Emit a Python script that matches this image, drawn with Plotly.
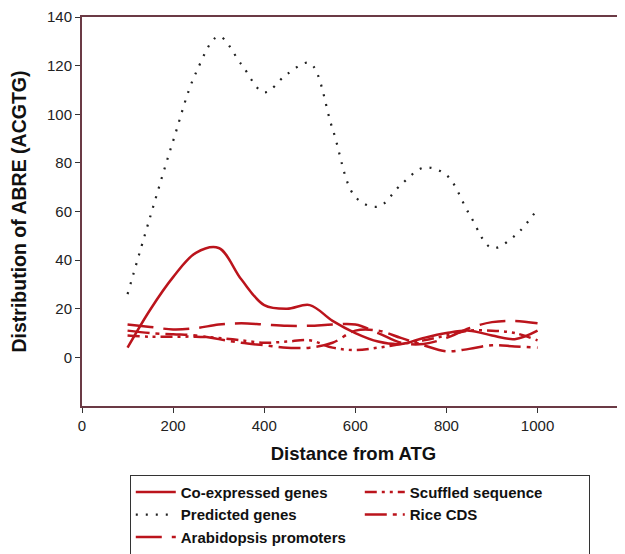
import plotly.graph_objects as go

# ---- data ----
dist = [100, 150, 200, 250, 300, 350, 400, 450, 500, 550,
        600, 650, 700, 750, 800, 850, 900, 950, 1000]

co_expressed = [4, 19.7, 33, 43, 45, 32, 21.5, 20, 21.5, 15,
                10, 6.5, 5.5, 8, 10, 11, 9, 7.5, 11]
predicted = [26, 58, 89, 117, 132, 120.5, 109, 116.5, 121, 94,
             66, 62, 71, 78, 75, 59, 45, 50, 61]
arabidopsis = [13.5, 12.5, 11.5, 12, 13.5, 14, 13.5, 13, 13, 13.5,
               13.5, 10, 6, 5.5, 8, 12, 14.5, 15, 14]
scuffled = [9, 8.5, 8.5, 8.5, 8, 7, 6, 6.5, 7, 4,
            3, 4, 5.5, 7, 9, 11, 11, 10, 7]
rice_cds = [11, 10, 9.5, 9, 7.5, 6, 5, 4, 4, 6,
            11, 11, 8, 5, 2.5, 3.5, 5, 4.5, 4]

x_ticks = [0, 200, 400, 600, 800, 1000]
y_ticks = [0, 20, 40, 60, 80, 100, 120, 140]

RED = "#bb141c"
FRAME = "#6b3a45"
FONT = "Liberation Sans"

fig = go.Figure()

def add(name, y, color, dash, width):
    fig.add_trace(go.Scatter(
        x=dist, y=y, name=name, mode="lines",
        line=dict(color=color, dash=dash, width=width, shape="spline", smoothing=1.0),
    ))

# legend order: row-wise fill (Co-expressed, Scuffled / Predicted, Rice / Arabidopsis)
add("Co-expressed genes", co_expressed, RED, "solid", 2.5)
add("Scuffled sequence", scuffled, RED, "12px,5px,3px,5px,3px,5px", 2.5)
add("Predicted genes", predicted, "#222222", "2px,8px", 2.2)
add("Rice CDS", rice_cds, RED, "22px,6px,4px,6px", 2.5)
add("Arabidopsis promoters", arabidopsis, RED, "26px,10px", 2.5)

# the page body adds an 8px offset, so the figure is 8px smaller than the window
fig.update_layout(
    width=617, height=546,
    margin=dict(l=74, r=0, t=9, b=148, autoexpand=False),
    paper_bgcolor="white", plot_bgcolor="white",
    font=dict(family=FONT, color="#111"),
    showlegend=True,
    legend=dict(
        orientation="h", x=0.088, xanchor="left", y=-0.177, yanchor="top",
        bordercolor="#333", borderwidth=1,
        font=dict(family=FONT, size=15, color="#111", weight="bold"),
        entrywidth=174, traceorder="normal", itemwidth=40,
    ),
    xaxis=dict(
        range=[0, 1192], tickvals=x_ticks, ticks="outside", ticklen=5,
        tickcolor="#333", showgrid=False, zeroline=False, automargin=False,
        showline=True, linecolor=FRAME, linewidth=2, mirror=True,
        tickfont=dict(size=15, color="#222"),
        title=dict(text="Distance from ATG", standoff=14,
                   font=dict(size=18.5, weight="bold", color="#111")),
    ),
    yaxis=dict(
        range=[-20, 140], tickvals=y_ticks, ticks="outside", ticklen=5,
        tickcolor="#333", showgrid=False, zeroline=False, automargin=False,
        showline=True, linecolor=FRAME, linewidth=2, mirror=False,
        tickfont=dict(size=15, color="#222"),
        title=dict(text="Distribution of ABRE (ACGTG)", standoff=15,
                   font=dict(size=19.5, weight="bold", color="#111")),
    ),
)

fig.write_html("out.html")
